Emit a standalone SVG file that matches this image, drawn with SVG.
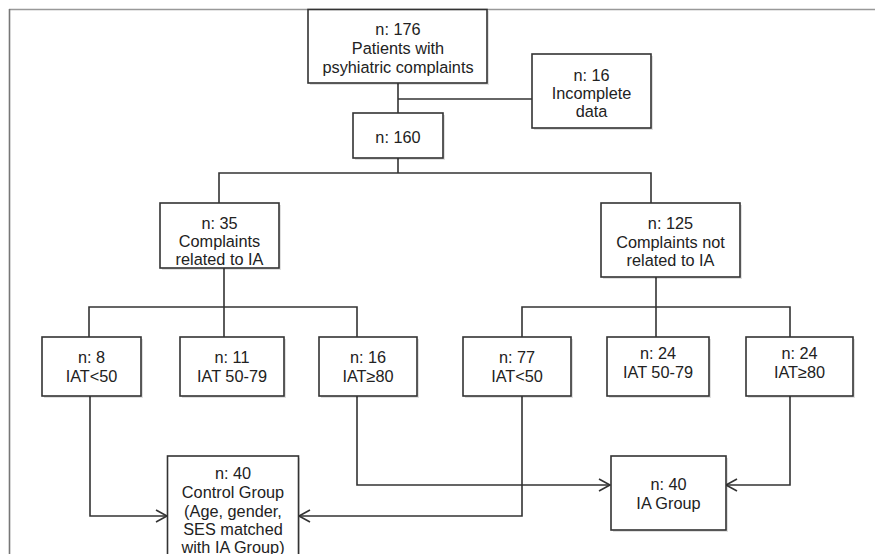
<svg xmlns="http://www.w3.org/2000/svg" width="875" height="554" viewBox="0 0 875 554">
<defs>
<style>
.box{fill:#fff;stroke:#333;stroke-width:1.6}
.sh{fill:#000;opacity:0.12}
.ln{fill:none;stroke:#333;stroke-width:1.6}
.t{font-family:"Liberation Sans",Arial,sans-serif;font-size:16.3px;fill:#222;text-anchor:middle}
</style>
<marker id="arr" viewBox="0 0 14 14" refX="12" refY="7" markerWidth="14" markerHeight="14" markerUnits="userSpaceOnUse" orient="auto">
<path d="M1,1 L12,7 L1,13" fill="none" stroke="#333" stroke-width="1.6"/>
</marker>
</defs>
<rect width="875" height="554" fill="#fff"/>
<g id="frame">
<line x1="9" y1="9.5" x2="875" y2="9.5" stroke="#999" stroke-width="1.6"/>
<line x1="9.5" y1="9" x2="9.5" y2="554" stroke="#777" stroke-width="1.6"/>
</g>
<g id="connectors">
<path class="ln" d="M398,83 V113"/>
<path class="ln" d="M398,99 H532"/>
<path class="ln" d="M398,158 V173"/>
<path class="ln" d="M219,203 V173 H651 V203"/>
<path class="ln" d="M224,268 V307"/>
<path class="ln" d="M89,337 V307 H357 V337"/>
<path class="ln" d="M224,307 V337"/>
<path class="ln" d="M656,277 V307"/>
<path class="ln" d="M522,337 V307 H790 V337"/>
<path class="ln" d="M656,307 V337"/>
<path class="ln" d="M90,396 V516 H167" marker-end="url(#arr)"/>
<path class="ln" d="M522,396 V516 H299" marker-end="url(#arr)"/>
<path class="ln" d="M357,396 V485 H610" marker-end="url(#arr)"/>
<path class="ln" d="M790,396 V485 H726" marker-end="url(#arr)"/>
</g>
<g id="n176">
<rect class="sh" x="310" y="11" width="179" height="74"/>
<rect class="box" x="308" y="9.5" width="179" height="73.5"/>
<text class="t" x="398" y="35">n: 176</text>
<text class="t" x="398" y="54">Patients with</text>
<text class="t" x="398" y="72.5">psyhiatric complaints</text>
</g>
<g id="n16incomplete">
<rect class="sh" x="534" y="56" width="119" height="74"/>
<rect class="box" x="532" y="54" width="119" height="74"/>
<text class="t" x="591.5" y="80.5">n: 16</text>
<text class="t" x="591.5" y="99">Incomplete</text>
<text class="t" x="591.5" y="117">data</text>
</g>
<g id="n160">
<rect class="sh" x="355" y="115" width="90" height="45"/>
<rect class="box" x="353" y="113" width="90" height="45"/>
<text class="t" x="398" y="142.5">n: 160</text>
</g>
<g id="n35">
<rect class="sh" x="162" y="205" width="119" height="65"/>
<rect class="box" x="160" y="203" width="119" height="65"/>
<text class="t" x="219.5" y="228.5">n: 35</text>
<text class="t" x="219.5" y="246.5">Complaints</text>
<text class="t" x="219.5" y="265">related to IA</text>
</g>
<g id="n125">
<rect class="sh" x="603" y="205" width="139" height="74"/>
<rect class="box" x="601" y="203" width="139" height="74"/>
<text class="t" x="670.5" y="228.5">n: 125</text>
<text class="t" x="670.5" y="247.5">Complaints not</text>
<text class="t" x="670.5" y="265.5">related to IA</text>
</g>
<g id="n8">
<rect class="sh" x="44" y="339" width="99" height="59"/>
<rect class="box" x="42" y="337" width="99" height="59"/>
<text class="t" x="91.5" y="363">n: 8</text>
<text class="t" x="91.5" y="381.5">IAT&lt;50</text>
</g>
<g id="n11">
<rect class="sh" x="182" y="339" width="104" height="59"/>
<rect class="box" x="180" y="337" width="104" height="59"/>
<text class="t" x="232" y="363">n: 11</text>
<text class="t" x="232" y="381.5">IAT 50-79</text>
</g>
<g id="n16iat">
<rect class="sh" x="321" y="339" width="98" height="59"/>
<rect class="box" x="319" y="337" width="98" height="59"/>
<text class="t" x="368" y="363">n: 16</text>
<text class="t" x="368" y="381.5">IAT≥80</text>
</g>
<g id="n77">
<rect class="sh" x="465" y="339" width="108" height="59"/>
<rect class="box" x="463" y="337" width="108" height="59"/>
<text class="t" x="517" y="363">n: 77</text>
<text class="t" x="517" y="381.5">IAT&lt;50</text>
</g>
<g id="n24a">
<rect class="sh" x="609" y="339" width="102" height="59"/>
<rect class="box" x="607" y="337" width="102" height="59"/>
<text class="t" x="658" y="359">n: 24</text>
<text class="t" x="658" y="377.5">IAT 50-79</text>
</g>
<g id="n24b">
<rect class="sh" x="748" y="339" width="107" height="59"/>
<rect class="box" x="746" y="337" width="107" height="59"/>
<text class="t" x="799.5" y="359">n: 24</text>
<text class="t" x="799.5" y="377.5">IAT≥80</text>
</g>
<g id="control">
<rect class="sh" x="169" y="458" width="131" height="120"/>
<rect class="box" x="167.5" y="456" width="131" height="120"/>
<text class="t" x="233" y="478.5">n: 40</text>
<text class="t" x="233" y="497.5">Control Group</text>
<text class="t" x="233" y="516.5">(Age, gender,</text>
<text class="t" x="233" y="535">SES matched</text>
<text class="t" x="233" y="552.5">with IA Group)</text>
</g>
<g id="iagroup">
<rect class="sh" x="613" y="458" width="115" height="74"/>
<rect class="box" x="611" y="456" width="115" height="74"/>
<text class="t" x="668.5" y="489.5">n: 40</text>
<text class="t" x="668.5" y="508.5">IA Group</text>
</g>
</svg>
